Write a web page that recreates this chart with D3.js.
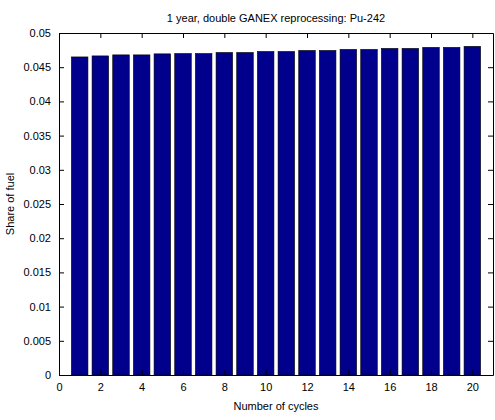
<!DOCTYPE html>
<html>
<head>
<meta charset="UTF-8">
<script src="https://d3js.org/d3.v7.min.js"></script>
<style>
  body { margin: 0; background: #fff; }
  text { font-family: "Liberation Sans", Arial, sans-serif; font-size: 11px; }
</style>
</head>
<body>
<svg id="chart" width="495" height="420"></svg>
<script>
// data
const cycles = d3.range(1, 21);
const share = [0.0465, 0.04665, 0.0468, 0.0468, 0.04695, 0.0470, 0.0470, 0.04715, 0.04715, 0.0473,
               0.0473, 0.04745, 0.04745, 0.0476, 0.0476, 0.04775, 0.04775, 0.0479, 0.0479, 0.04805];
const xTicks = d3.range(0, 21, 2);
const yTicks = d3.range(0, 0.0501, 0.005);

const svg = d3.select('#chart');
const margin = { top: 33, right: 2, bottom: 45, left: 59 };
const x = d3.scaleLinear().domain([0, 21]).range([margin.left, 495 - margin.right]);
const y = d3.scaleLinear().domain([0, 0.05]).range([420 - margin.bottom, margin.top]);

// bars
const bw = (x(1) - x(0)) * 0.8;
svg.selectAll('rect.bar')
  .data(cycles)
  .enter().append('rect')
  .attr('class', 'bar')
  .attr('x', (d) => x(d) - bw / 2)
  .attr('y', (d, i) => y(share[i]))
  .attr('width', bw)
  .attr('height', (d, i) => y(0) - y(share[i]))
  .attr('fill', '#00008c')
  .attr('stroke', '#000')
  .attr('stroke-width', 0.6);

// axes with inward ticks, mirrored on top/right
const fmtY = (d) => (Math.abs(d) < 1e-9 ? '0' : d3.format('.3~f')(d));
svg.append('g').attr('transform', `translate(0,${y(0)})`)
  .call(d3.axisBottom(x).tickValues(xTicks).tickSizeInner(-5).tickSizeOuter(0).tickPadding(8));
svg.append('g').attr('transform', `translate(0,${y(0.05)})`)
  .call(d3.axisTop(x).tickValues(xTicks).tickSizeInner(-5).tickSizeOuter(0).tickFormat(''));
svg.append('g').attr('transform', `translate(${x(0)},0)`)
  .call(d3.axisLeft(y).tickValues(yTicks).tickFormat(fmtY).tickSizeInner(-5).tickSizeOuter(0).tickPadding(8));
svg.append('g').attr('transform', `translate(${x(21)},0)`)
  .call(d3.axisRight(y).tickValues(yTicks).tickFormat('').tickSizeInner(-5).tickSizeOuter(0));
svg.selectAll('.domain').attr('stroke', '#000');
svg.selectAll('.tick text').style('font-size', '11px').attr('fill', '#000');

// labels
svg.append('text').attr('x', (x(0) + x(21)) / 2).attr('y', 22)
  .attr('text-anchor', 'middle').text('1 year, double GANEX reprocessing: Pu-242');
svg.append('text').attr('x', (x(0) + x(21)) / 2).attr('y', 410)
  .attr('text-anchor', 'middle').text('Number of cycles');
svg.append('text').attr('transform', `translate(14,${(y(0) + y(0.05)) / 2}) rotate(-90)`)
  .attr('text-anchor', 'middle').text('Share of fuel');
</script>
</body>
</html>
